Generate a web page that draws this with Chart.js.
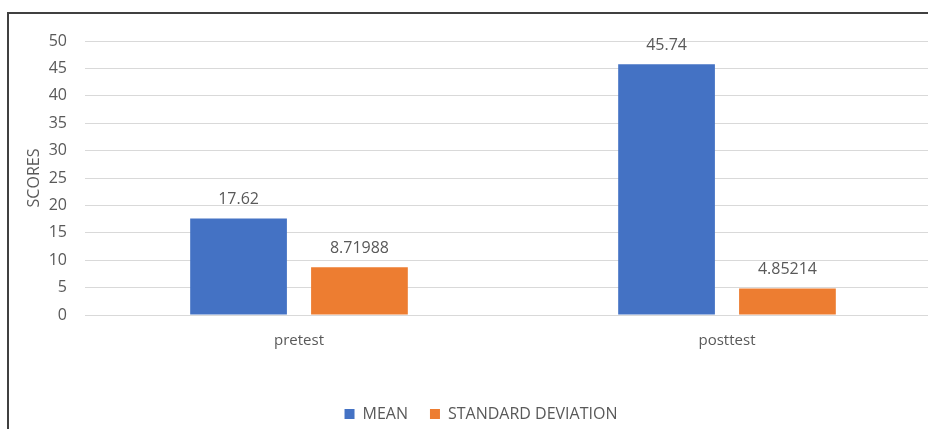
<!DOCTYPE html>
<html>
<head>
<meta charset="utf-8">
<script src="https://cdn.jsdelivr.net/npm/chart.js@4.4.0/dist/chart.umd.min.js"></script>
<style>
    html, body { margin: 0; padding: 0; background: #fff; overflow: hidden; }
    #wrap { position: relative; width: 928px; height: 429px; overflow: hidden; }
    #chart { position: absolute; left: 0; top: 0; }
    #frame { position: absolute; left: 7px; top: 12px; width: 1000px; height: 500px; border: 2px solid #404040; pointer-events: none; }
</style>
</head>
<body>
<div id="wrap">
    <canvas id="chart" width="970" height="440"></canvas>
    <div id="frame"></div>
</div>
<script>
var categories = ['pretest', 'posttest'];
var meanValues = [17.62, 45.74];
var sdValues = [8.71988, 4.85214];
var seriesNames = ['MEAN', 'STANDARD DEVIATION'];
var yTicks = [0, 5, 10, 15, 20, 25, 30, 35, 40, 45, 50];

var textColor = '#595959';
var fontFamily = '"Open Sans", "Liberation Sans", sans-serif';

// draws the value above each bar, like excel data labels
var valueLabels = {
    id: 'valueLabels',
    afterDatasetsDraw: function (chart)
    {
        var ctx = chart.ctx;

        ctx.save();
        ctx.fillStyle = textColor;
        ctx.font = '16px ' + fontFamily;
        ctx.textAlign = 'center';
        ctx.textBaseline = 'middle';

        chart.data.datasets.forEach(function (dataset, i)
        {
            chart.getDatasetMeta(i).data.forEach(function (bar, j)
            {
                ctx.fillText(String(dataset.data[j]), bar.x, bar.y - 19);
            });
        });

        ctx.restore();
    }
};

new Chart(document.getElementById('chart'), {
    type: 'bar',
    data: {
        labels: categories,
        datasets: [
            { label: seriesNames[0], data: meanValues, backgroundColor: '#4472C4' },
            { label: seriesNames[1], data: sdValues, backgroundColor: '#ED7D31' }
        ]
    },
    options: {
        responsive: false,
        animation: false,
        categoryPercentage: 0.565,
        barPercentage: 0.8,
        layout: { padding: { left: 21, right: 29, top: 41, bottom: 8 } },
        plugins: {
            tooltip: { enabled: false },
            legend: {
                position: 'bottom',
                labels: {
                    color: textColor,
                    font: { family: fontFamily, size: 16 },
                    boxWidth: 10,
                    boxHeight: 10,
                    padding: 22
                }
            }
        },
        scales: {
            x: {
                grid: { display: false },
                border: { display: false },
                ticks: { color: textColor, font: { family: fontFamily, size: 15 }, padding: 9 },
                afterFit: function (scale) { scale.height = 69; }
            },
            y: {
                min: 0,
                max: 50,
                afterBuildTicks: function (scale)
                {
                    scale.ticks = yTicks.map(function (v) { return { value: v }; });
                },
                grid: { color: '#d9d9d9', drawTicks: false },
                border: { display: false },
                ticks: { color: textColor, font: { family: fontFamily, size: 16 }, padding: 18 },
                title: {
                    display: true,
                    text: 'SCORES',
                    color: textColor,
                    font: { family: fontFamily, size: 16 }
                },
                afterFit: function (scale) { scale.width = 64; }
            }
        }
    },
    plugins: [valueLabels]
});
</script>
</body>
</html>
